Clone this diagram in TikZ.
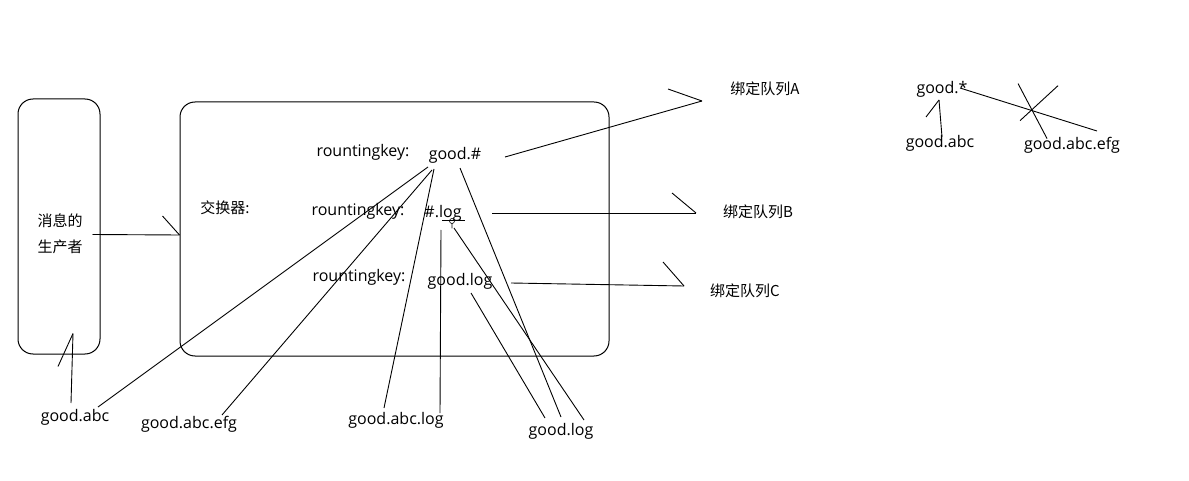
\documentclass[tikz,border=0pt]{standalone}
\usepackage{fontspec}
\setmainfont{Open Sans}
\newfontfamily\cjk{Noto Sans CJK SC}
\usetikzlibrary{calc}
\usetikzlibrary{positioning}

\tikzset{
  panel/.style={draw, line width=1pt, rounded corners=15pt, inner sep=0pt},
  lbl/.style={inner sep=0pt, font=\fontsize{16}{19}\selectfont},
  zh/.style={inner sep=0pt, font=\cjk\fontsize{15}{26}\selectfont, align=center},
  wire/.style={line width=0.9pt},
}

\begin{document}
\begin{tikzpicture}[x=1pt, y=-1pt]
  \useasboundingbox (0,0) rectangle (1189,481);
  \node[panel, minimum width=82pt,  minimum height=255pt] (producer) at ( 59.0, 226.5) {};
  \node[panel, minimum width=429pt, minimum height=254pt] (exchange) at (394.5, 229.0) {};
  \node[zh]  (maker)   at ( 60.0, 234.0) {消息的\\生产者};
  \node[zh]  (switch)  at (225.0, 208.0) {交换器:};
  \node[lbl] (keya)    at (363.0, 152.0) {rountingkey:};
  \node[lbl] (keyb)    at (358.0, 211.0) {rountingkey:};
  \node[lbl] (keyc)    at (359.0, 277.0) {rountingkey:};
  \node[lbl] (gooda)   at (455.0, 155.0) {good.\#};
  \node[lbl] (hashlog) at (443.0, 213.0) {\#.log};
  \node[lbl] (goodlog) at (460.0, 281.0) {good.log};
  \node[zh]  (queuea)  at (765.0,  89.0) {绑定队列A};
  \node[zh]  (queueb)  at (758.0, 212.0) {绑定队列B};
  \node[zh]  (queuec)  at (745.0, 291.0) {绑定队列C};
  \node[lbl] (msgabc)  at ( 75.0, 417.0) {good.abc};
  \node[lbl] (msgefg)  at (189.0, 424.0) {good.abc.efg};
  \node[lbl] (msgalog) at (396.0, 420.0) {good.abc.log};
  \node[lbl] (msglog)  at (561.0, 431.0) {good.log};
  \node[lbl] (star)    at (942.0,  89.0) {good.*};
  \node[lbl] (starabc) at (940.0, 143.0) {good.abc};
  \node[lbl] (starefg) at (1072.0, 145.0) {good.abc.efg};

  \draw[wire] ($(producer.east)+(-8,8)$) -- coordinate[pos=1] (hit) ($(exchange.west)+(0,6)$);
  \draw[wire] (hit) -- ++(-17,-19);
  \draw[wire] ($(msgabc)+(-4,-14)$) -- coordinate[pos=1] (up) ($(producer.south)+(14,-21)$);
  \draw[wire] (up) -- ++(-15,33);

  \draw[wire] ($(gooda)+(50,2)$)    -- coordinate[pos=1] (tipa) ($(queuea)+(-63,12)$);
  \draw[wire] (tipa) -- ++(-34,-12);
  \draw[wire] ($(hashlog)+(49,0)$)  -- coordinate[pos=1] (tipb) ($(queueb)+(-62,1)$);
  \draw[wire] (tipb) -- ++(-24,-20);
  \draw[wire] ($(goodlog)+(51,2)$)  -- coordinate[pos=1] (tipc) ($(queuec)+(-61,-5)$);
  \draw[wire] (tipc) -- ++(-21,-24);

  \draw[wire] ($(gooda)+(-27,12)$)  -- ($(msgabc)+(23,-10)$);
  \draw[wire] ($(gooda)+(-23,15)$)  -- ($(msgefg)+(33,-9)$);
  \draw[wire] ($(gooda)+(-21,14)$)  -- ($(msgalog)+(-12,-12)$);
  \draw[wire] ($(gooda)+(5,13)$)    -- ($(msglog)+(0,-14)$);
  \draw[wire] ($(hashlog)+(-2,17)$) -- ($(msgalog)+(44,-7)$);
  \draw[wire] ($(hashlog)+(11,15)$) -- ($(msglog)+(23,-11)$);
  \draw[wire] ($(goodlog)+(11,12)$) -- ($(msglog)+(-16,-13)$);
  \draw[line width=0.6pt] ($(hashlog)+(-1,7)$) -- ++(23,0);
  \draw[line width=0.6pt] ($(hashlog)+(9,8)$) circle (2.5) ++(0,2.5) -- ++(0,5);

  \draw[wire] ($(starabc)+(2,-6)$)  -- coordinate[pos=1] (fork) ($(star)+(-3,11)$);
  \draw[wire] (fork) -- ++(-13,17);
  \draw[wire] ($(star)+(18,-1)$)    -- coordinate[pos=0.526] (cross) ($(starefg)+(25,-14)$);
  \draw[wire] ($(cross)+(-14,-27)$) -- ($(cross)+(15,28)$);
  \draw[wire] ($(cross)+(26,-25)$)  -- ($(cross)+(-12,10)$);
\end{tikzpicture}
\end{document}
